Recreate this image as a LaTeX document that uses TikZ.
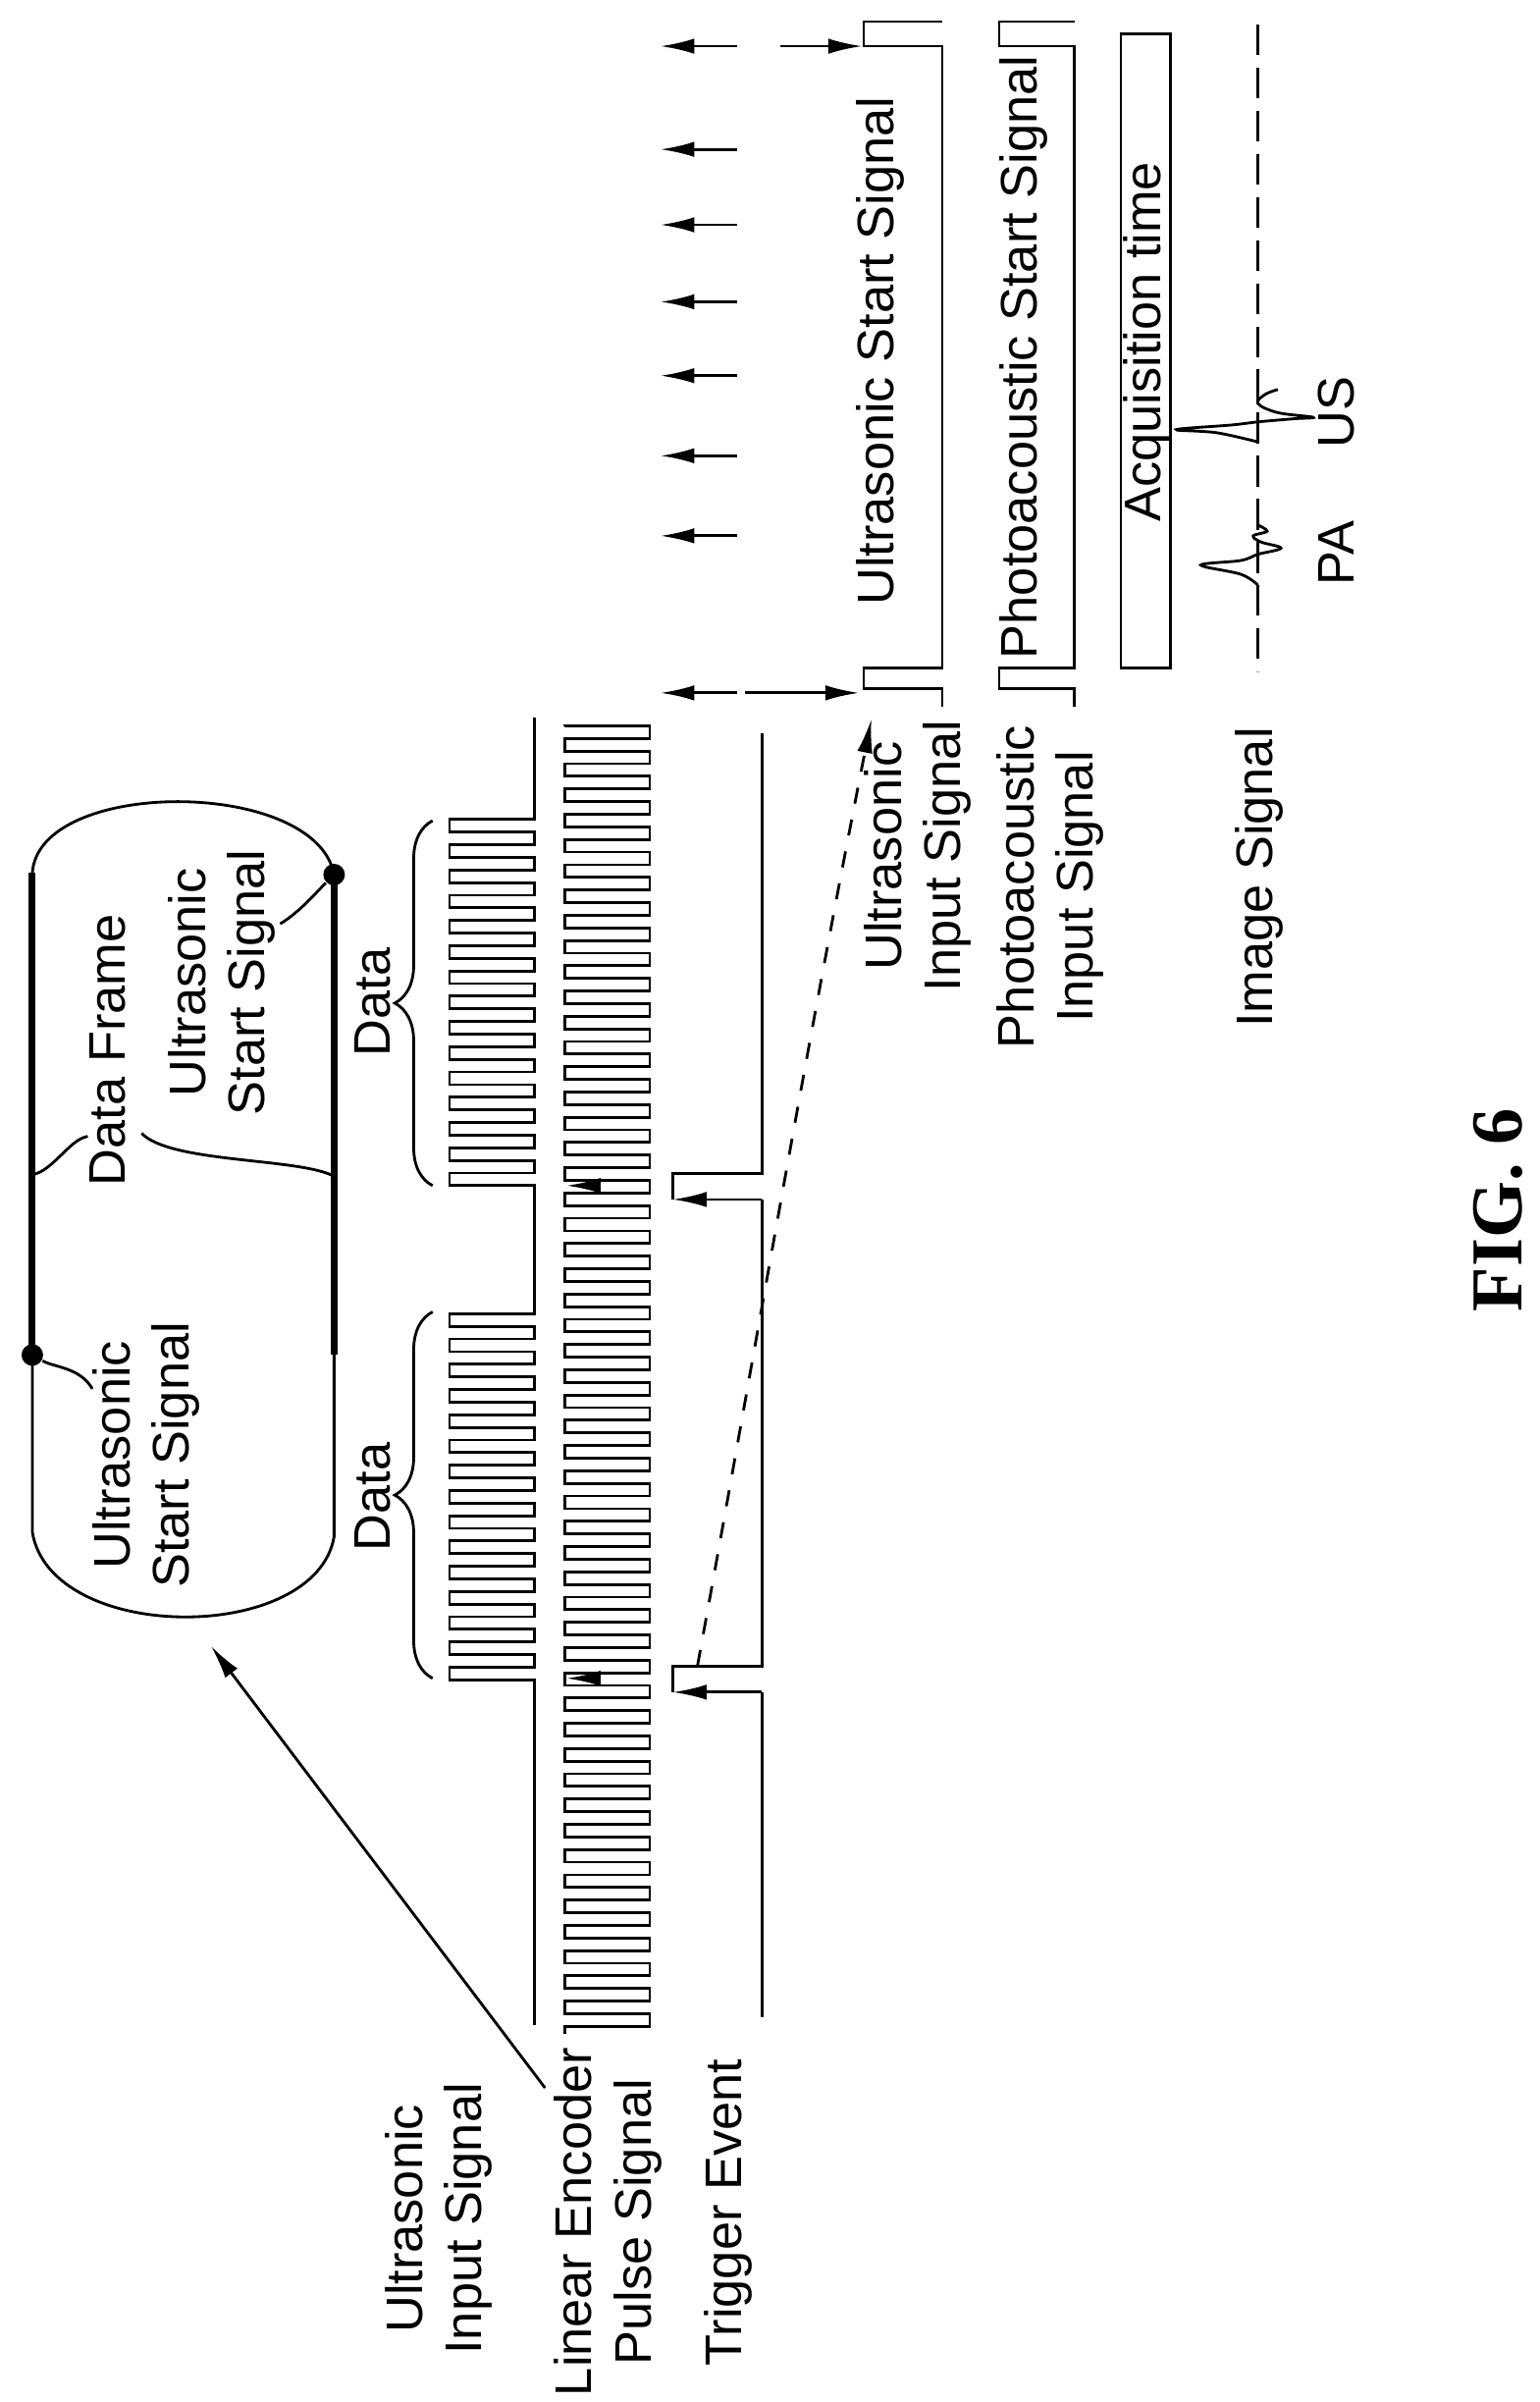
\documentclass[tikz,border=0pt]{standalone}
\usepackage{fontspec}
\setmainfont{Liberation Sans}
\newfontfamily\figfont{Liberation Serif}
\usetikzlibrary{arrows.meta,decorations.pathreplacing}

\tikzset{
  sig/.style={line width=0.18mm},
  bold/.style={line width=0.45mm},
  lbl/.style={rotate=90,align=center,font=\fontsize{9.5}{11}\selectfont,inner sep=0pt},
  arr/.style={sig,-{Latex[length=2.2mm,width=1mm]}},
  dot/.style={circle,fill,inner sep=0pt,minimum size=1.4mm}
}

\begin{document}
\begin{tikzpicture}[x=0.1mm,y=-0.1mm]
  \useasboundingbox (0,0) rectangle (1000,1560);

  % data frame (pill)
  \draw[sig] (21,567) .. controls (25,505) and (205,505) .. (217,568)
    -- (217,998) .. controls (205,1068) and (33,1068) .. (21,995) -- cycle;
  \draw[bold] (21,567) -- (21,880);
  \draw[bold] (217,568) -- (217,880);
  \node[dot] (sl) at (21,880) {};
  \node[dot] (sr) at (217,568) {};
  \node[lbl] (dframe) at (70,682) {Data Frame};
  \node[lbl] (ustart1) at (95,945) {Ultrasonic\\Start Signal};
  \node[lbl] (ustart2) at (144,638) {Ultrasonic\\Start Signal};
  \coordinate (l1) at (60,902);
  \coordinate (l2) at (182,600);
  \coordinate (l3) at (57,738);
  \coordinate (l4) at (92,736);
  \draw[sig] (sl) .. controls (35,888) and (52,888) .. (l1);
  \draw[sig] (sr) .. controls (205,580) and (195,592) .. (l2);
  \draw[sig] (21,763) .. controls (35,760) and (45,740) .. (l3);
  \draw[sig] (215,763) .. controls (190,752) and (110,755) .. (l4);

  % ultrasonic input signal
  \draw[sig] (347,1315) -- (347,1091)
    \foreach \i in {0,...,14}{ -- (347,{1091-16.4*\i}) -- (292,{1091-16.4*\i})
      -- (292,{1082.8-16.4*\i}) -- (347,{1082.8-16.4*\i}) }
    -- (347,770)
    \foreach \i in {0,...,14}{ -- (347,{770-16.4*\i}) -- (292,{770-16.4*\i})
      -- (292,{761.8-16.4*\i}) -- (347,{761.8-16.4*\i}) }
    -- (347,466);
  \draw[sig,decorate,decoration={brace,amplitude=7}] (281,1090) -- (281,852);
  \draw[sig,decorate,decoration={brace,amplitude=7}] (281,770) -- (281,533);
  \node[lbl] (data1) at (242,972) {Data};
  \node[lbl] (data2) at (242,651) {Data};

  % linear encoder pulse signal
  \draw[sig] (367,1321)
    \foreach \i in {0,...,51}{ -- (367,{1316-16.4*\i}) -- (422,{1316-16.4*\i})
      -- (422,{1307.8-16.4*\i}) -- (367,{1307.8-16.4*\i}) }
    -- (367,472);
  \draw[arr] (388,1090) -- (368,1090);
  \draw[arr] (388,770) -- (368,770);

  % trigger event
  \coordinate (trg1) at (437,1082);
  \draw[sig] (495,1310) -- (495,1099);
  \draw[arr] (495,1099) -- (437,1099);
  \draw[sig] (437,1099) -- (trg1) -- (495,1082) -- (495,779);
  \draw[arr] (495,779) -- (437,779);
  \draw[sig] (437,779) -- (437,762) -- (495,762) -- (495,476);

  % left labels
  \node[lbl] (lus) at (285,1441) {Ultrasonic\\Input Signal};
  \node[lbl] (lenc) at (395,1443) {Linear Encoder\\Pulse Signal};
  \node[lbl] (ltrg) at (473,1437) {Trigger Event};
  \coordinate (pill) at (137,1069);
  \draw[sig,-{Latex[length=2.2mm,width=1mm]}] (354,1356) -- (pill);

  % start arrows
  \foreach \y in {30,97,146,196,244,296,348,450}
    \draw[arr] (479,\y) -- (429,\y);
  \coordinate (ust) at (560,30);
  \coordinate (usb) at (558,450);
  \draw[arr] (507,30) -- (ust);
  \draw[arr] (484,450) -- (usb);
  \coordinate (usin) at (566,467);
  \draw[sig,dashed,-{Latex[length=2.2mm,width=1mm]}] (453,1082)
    .. controls (490,880) and (520,700) .. (usin);

  % ultrasonic / photoacoustic input
  \draw[sig] (612,459) -- (612,447) -- (561,447) -- (561,434) -- (612,434)
    -- (612,30) -- (561,30) -- (561,14) -- (612,14);
  \draw[sig] (698,459) -- (698,447) -- (649,447) -- (649,434) -- (698,434)
    -- (698,30) -- (649,30) -- (649,14) -- (698,14);
  \node[lbl] (usss) at (572,228) {Ultrasonic Start Signal};
  \node[lbl] (pass) at (665,232) {Photoacoustic Start Signal};
  \draw[sig] (728,22) rectangle (760,434);
  \node[lbl] (acq) at (745,222) {Acquisition time};
  \draw[sig,dashed,dash pattern=on 2mm off 0.8mm] (817,16) -- (817,436);
  \draw[sig] plot[smooth,tension=0.6] coordinates {(817,380) (806,373) (780,367)
    (806,364) (817,360) (832,356) (819,352) (814,348) (823,345) (817,341)};
  \draw[sig] plot[smooth,tension=0.6] coordinates {(817,287) (790,281) (764,279)
    (800,276) (817,274) (840,272) (853,271) (830,268) (817,262) (822,256) (830,253)};
  \node[lbl] (pa) at (868,359) {PA};
  \node[lbl] (us) at (868,268) {US};
  \node[lbl] (usis) at (596,556) {Ultrasonic\\Input Signal};
  \node[lbl] (pais) at (682,576) {Photoacoustic\\Input Signal};
  \node[lbl] (imgs) at (818,570) {Image Signal};

  \node[rotate=90,font=\figfont\bfseries\fontsize{13.5}{15}\selectfont] (fig) at (973,786) {FIG. 6};
\end{tikzpicture}
\end{document}
